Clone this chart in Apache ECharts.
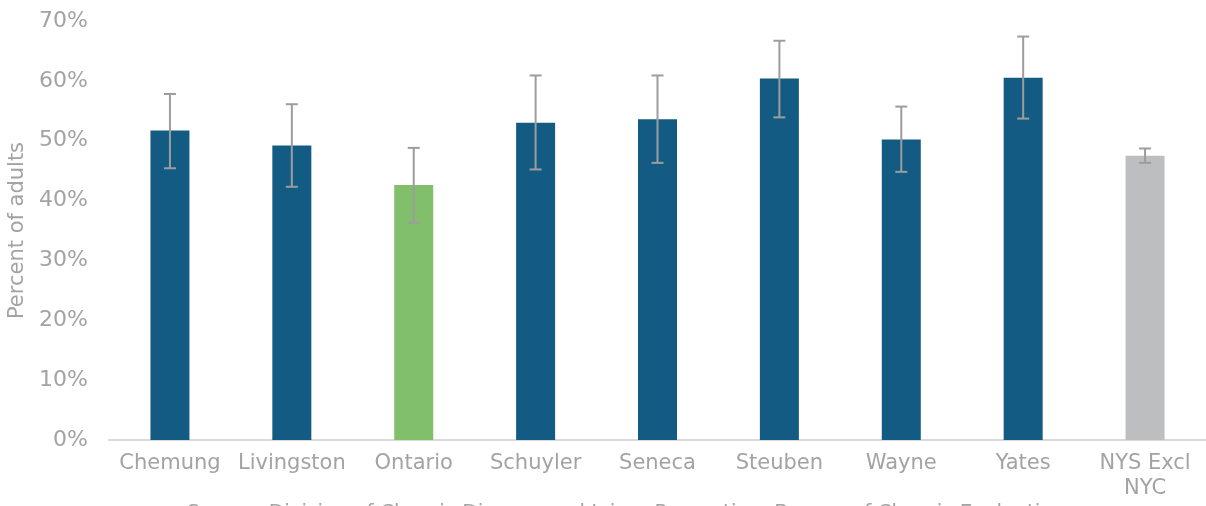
<!DOCTYPE html>
<html>
<head>
<meta charset="utf-8">
<script src="https://cdn.jsdelivr.net/npm/echarts@6/dist/echarts.min.js"></script>
<style>
html,body{margin:0;padding:0;background:#fff;}
#chart{width:1206px;height:506px;}
</style>
</head>
<body>
<div id="chart"></div>
<script>
const categories = ['Chemung','Livingston','Ontario','Schuyler','Seneca','Steuben','Wayne','Yates','NYS Excl\nNYC'];
const values =   [51.7, 49.2, 42.6, 53.0, 53.6, 60.4, 50.2, 60.5, 47.5];
const errLow =   [45.4, 42.3, 36.3, 45.2, 46.3, 53.9, 44.8, 53.7, 46.3];
const errHigh =  [57.8, 56.1, 48.8, 60.9, 60.9, 66.7, 55.7, 67.4, 48.7];
const yTicks = [0,10,20,30,40,50,60,70];
const sourceText = 'Source: Division of Chronic Disease and Injury Prevention, Bureau of Chronic Evaluation';

const BLUE = '#135b83', GREEN = '#82bf6a', GRAY = '#bdbec0', TXT = '#a3a3a3';
const colorFor = (name) => name === 'Ontario' ? GREEN : (name.indexOf('NYS') === 0 ? GRAY : BLUE);

const chart = echarts.init(document.getElementById('chart'), null, {renderer:'canvas'});
chart.setOption({
  animation:false,
  grid:{left:109, right:0, top:21, bottom:66, containLabel:false, outerBoundsMode:'none'},
  xAxis:{
    type:'category', data:categories,
    axisLine:{lineStyle:{color:'#d9d9d9', width:2}},
    axisTick:{show:false},
    axisLabel:{color:TXT, fontFamily:'DejaVu Sans', fontSize:21, margin:11, lineHeight:25, interval:0}
  },
  yAxis:{
    type:'value', min:yTicks[0], max:yTicks[yTicks.length-1], interval:10,
    splitLine:{show:false}, axisLine:{show:false}, axisTick:{show:false},
    axisLabel:{color:TXT, fontFamily:'DejaVu Sans', fontSize:22, margin:21, formatter:'{value}%'},
    name:'Percent of adults', nameLocation:'middle', nameGap:79,
    nameTextStyle:{color:TXT, fontFamily:'DejaVu Sans', fontSize:21}
  },
  series:[
    {
      type:'bar', barWidth:39,
      data: values.map((v,i)=>({value:v, itemStyle:{color:colorFor(categories[i])}}))
    },
    {
      type:'custom',
      data: errLow.map((lo,i)=>[i, lo, errHigh[i]]),
      renderItem:function(params, api){
        const x = api.coord([api.value(0), api.value(1)])[0];
        const yLo = api.coord([api.value(0), api.value(1)])[1];
        const yHi = api.coord([api.value(0), api.value(2)])[1];
        const hw = 6;
        const style = {stroke:'#9d9d9d', lineWidth:2};
        return {type:'group', children:[
          {type:'line', shape:{x1:x, y1:yHi, x2:x, y2:yLo}, style:style},
          {type:'line', shape:{x1:x-hw, y1:yHi, x2:x+hw, y2:yHi}, style:style},
          {type:'line', shape:{x1:x-hw, y1:yLo, x2:x+hw, y2:yLo}, style:style}
        ]};
      },
      z:5
    }
  ],
  graphic:[{
    type:'text', left:187, top:503,
    style:{text:sourceText, fill:TXT, font:'20px "DejaVu Sans"'}
  }]
});
</script>
</body>
</html>
